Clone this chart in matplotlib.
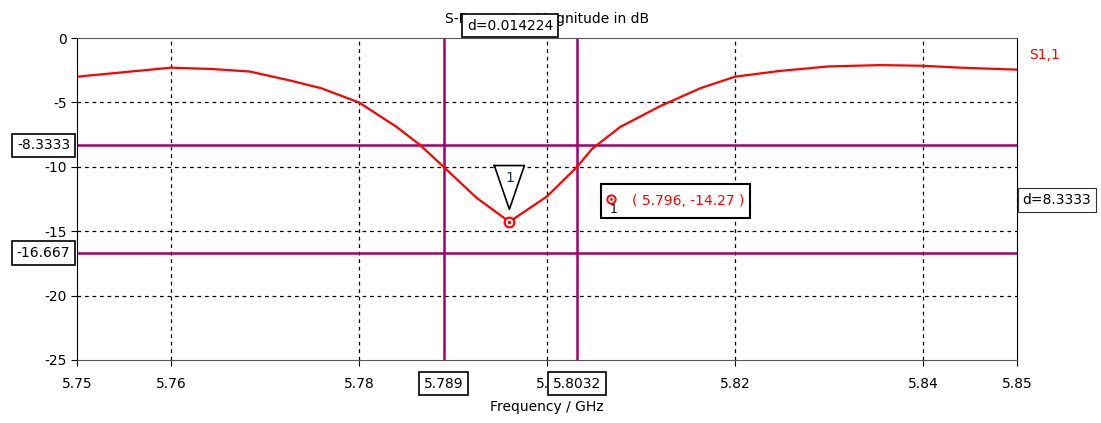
import numpy as np
import matplotlib.pyplot as plt
from matplotlib.patches import Rectangle

# S1,1 magnitude
freq = [5.75, 5.76, 5.7643, 5.7684, 5.7727, 5.776, 5.78, 5.784, 5.7865, 5.789,
        5.7925, 5.796, 5.80, 5.8032, 5.8048, 5.8078, 5.812, 5.8163, 5.82,
        5.8248, 5.83, 5.8354, 5.84, 5.844, 5.85]
s11 = [-3.0, -2.3, -2.4, -2.6, -3.3, -3.9, -5.0, -6.9, -8.3, -10.0,
       -12.4, -14.27, -12.3, -10.0, -8.6, -6.9, -5.3, -3.9, -3.0,
       -2.55, -2.2, -2.1, -2.15, -2.3, -2.45]

xticks = [5.75, 5.76, 5.78, 5.80, 5.82, 5.84, 5.85]
xtick_labels = ["5.75", "5.76", "5.78", "5.8", "5.82", "5.84", "5.85"]
yticks = [0, -5, -10, -15, -20, -25]
vmarkers = [5.789, 5.8032]
hmarkers = [-8.3333, -16.667]
marker_f, marker_db = 5.796, -14.27

purple = "#a0006e"
red = "#ff0000"

plt.rcParams['font.family'] = ['DejaVu Sans']
plt.rcParams['axes.unicode_minus'] = False
fig = plt.figure(figsize=(11.01, 4.23), dpi=100)
ax = fig.add_axes([0.0699, 0.149, 0.8538, 0.761])

ax.set_xlim(5.75, 5.85)
ax.set_ylim(-25, 0)
ax.set_xticks(xticks)
ax.set_xticklabels(xtick_labels)
ax.set_yticks(yticks)
ax.tick_params(labelsize=10, length=4, direction='out')
ax.tick_params(axis='x', pad=8)

for g in [5.76, 5.78, 5.80, 5.82, 5.84]:
    ax.axvline(g, color='black', ls=(0, (3, 3)), lw=0.9)
for g in [-5, -10, -15, -20]:
    ax.axhline(g, color='black', ls=(0, (3, 3)), lw=0.9)

for v in vmarkers:
    ax.axvline(v, color=purple, lw=1.8)
for h in hmarkers:
    ax.axhline(h, color=purple, lw=1.8)

ax.plot(freq, s11, color=red, lw=1.6)
ax.plot(marker_f, marker_db, 'o', mfc='white', mec=red, ms=7, mew=1.5)
ax.plot(marker_f, marker_db, '.', color=red, ms=3)

for side in ['top', 'bottom']:
    ax.spines[side].set_color('#555555')
for side in ['left', 'right']:
    ax.spines[side].set_color('black')

box = dict(boxstyle='square,pad=0.35', fc='white', ec='black', lw=1.2)

ax.set_title("S-Parameter Magnitude in dB", fontsize=10, pad=11, zorder=1)
ax.set_xlabel("Frequency / GHz", fontsize=10, labelpad=7)

# marker value boxes
ax.annotate("-8.3333", xy=(0, hmarkers[0]), xycoords=('axes fraction', 'data'),
            xytext=(-5, 0), textcoords='offset points', ha='right', va='center',
            fontsize=10, bbox=box)
ax.annotate("-16.667", xy=(0, hmarkers[1]), xycoords=('axes fraction', 'data'),
            xytext=(-5, 0), textcoords='offset points', ha='right', va='center',
            fontsize=10, bbox=box)
ax.annotate("5.789", xy=(vmarkers[0], 0), xycoords=('data', 'axes fraction'),
            xytext=(0, -17), textcoords='offset points', ha='center', va='center',
            fontsize=10, bbox=box, zorder=10)
ax.annotate("5.8032", xy=(vmarkers[1], 0), xycoords=('data', 'axes fraction'),
            xytext=(0, -17), textcoords='offset points', ha='center', va='center',
            fontsize=10, bbox=box, zorder=10)
ax.annotate("d=0.014224", xy=((vmarkers[0] + vmarkers[1]) / 2, 1),
            xycoords=('data', 'axes fraction'), xytext=(0, 9),
            textcoords='offset points', ha='center', va='center',
            fontsize=10, bbox=box, zorder=10)
ax.annotate("d=8.3333", xy=(1, -12.6), xycoords=('axes fraction', 'data'),
            xytext=(4, 0), textcoords='offset points', ha='left', va='center',
            fontsize=10, bbox=dict(boxstyle='square,pad=0.35', fc='white',
                                   ec='#333333', lw=0.8))

ax.text(1.013, 0.947, "S1,1", transform=ax.transAxes, color=red, fontsize=10,
        ha='left', va='center')

# triangle marker label
tri_x = [marker_f - 0.0016, marker_f + 0.0016, marker_f, marker_f - 0.0016]
tri_y = [-9.9, -9.9, -13.3, -9.9]
ax.fill(tri_x, tri_y, color='white', zorder=4)
ax.plot(tri_x, tri_y, color='black', lw=1.2, zorder=5)
ax.text(marker_f, -10.9, "1", ha='center', va='center', fontsize=10,
        color='#1a2a4a', zorder=6)

# marker readout box
ax.add_patch(Rectangle((5.8057, -13.95), 0.0159, 2.6, fc='white', ec='black',
                       lw=1.5, zorder=5))
ax.text(5.8090, -12.65, "( 5.796, -14.27 )", color=red, fontsize=10,
        ha='left', va='center', zorder=6)
ax.plot(5.8068, -12.5, 'o', mfc='white', mec=red, ms=6, mew=1.4, zorder=6)
ax.plot(5.8068, -12.5, '.', color=red, ms=2, zorder=6)
ax.text(5.8071, -13.35, "1", fontsize=9, ha='center', va='center', zorder=6)

fig.savefig("out.png", dpi=100)
